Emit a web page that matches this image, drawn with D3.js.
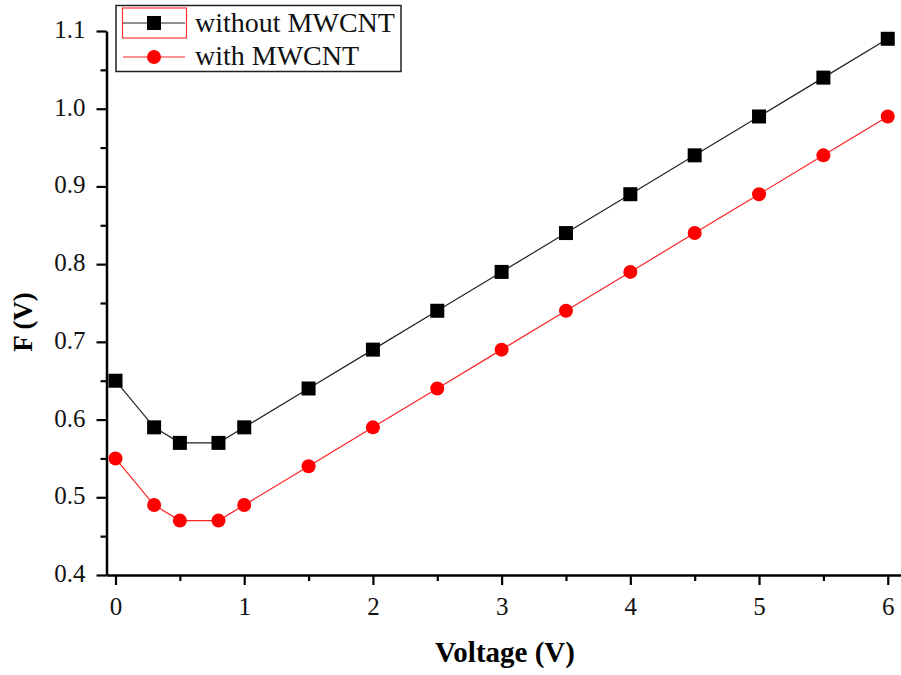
<!DOCTYPE html>
<html>
<head>
<meta charset="utf-8">
<script src="https://cdn.jsdelivr.net/npm/d3@7"></script>
<style>
  body { margin: 0; background: #fff; }
  svg { display: block; }
  svg text { font-family: "Liberation Serif", "Times New Roman", serif; }
</style>
</head>
<body>
<div id="chart"></div>
<script>
// data
const voltage = [0, 0.3, 0.5, 0.8, 1, 1.5, 2, 2.5, 3, 3.5, 4, 4.5, 5, 5.5, 6];
const withoutMWCNT = [0.65, 0.59, 0.57, 0.57, 0.59, 0.64, 0.69, 0.74, 0.79, 0.84, 0.89, 0.94, 0.99, 1.04, 1.09];
const withMWCNT = [0.55, 0.49, 0.47, 0.47, 0.49, 0.54, 0.59, 0.64, 0.69, 0.74, 0.79, 0.84, 0.89, 0.94, 0.99];
const xTicks = [0, 1, 2, 3, 4, 5, 6];
const xMinor = [0.5, 1.5, 2.5, 3.5, 4.5, 5.5];
const yTicks = [0.4, 0.5, 0.6, 0.7, 0.8, 0.9, 1.0, 1.1];
const yMinor = [0.45, 0.55, 0.65, 0.75, 0.85, 0.95, 1.05];
const seriesNames = ["without MWCNT", "with MWCNT"];

const W = 901, H = 675;
const plotLeft = 106.5, plotBottom = 575, plotTop = 31;
const serif = "'Liberation Serif', 'Times New Roman', serif";

const svg = d3.select("#chart").append("svg")
  .attr("width", W).attr("height", H);

const x = d3.scaleLinear().domain([-0.07, 6.103]).range([plotLeft, W]);
const y = d3.scaleLinear().domain([0.4, 1.1]).range([plotBottom, plotTop]);

// minor ticks first, then the main axes on top
svg.append("g")
  .attr("transform", "translate(0," + plotBottom + ")")
  .call(d3.axisBottom(x).tickValues(xMinor).tickSize(6).tickSizeOuter(0).tickFormat(""))
  .call(g => g.select(".domain").remove())
  .call(g => g.selectAll("line").attr("stroke-width", 2.2));

svg.append("g")
  .attr("transform", "translate(" + plotLeft + ",0)")
  .call(d3.axisLeft(y).tickValues(yMinor).tickSize(6).tickSizeOuter(0).tickFormat(""))
  .call(g => g.select(".domain").remove())
  .call(g => g.selectAll("line").attr("stroke-width", 2.2));

const xAxis = svg.append("g")
  .attr("transform", "translate(0," + plotBottom + ")")
  .call(d3.axisBottom(x).tickValues(xTicks).tickSize(10).tickSizeOuter(0).tickPadding(12).tickFormat(d3.format("d")))
  .attr("font-family", serif);
xAxis.select(".domain").attr("stroke-width", 2.5);
xAxis.selectAll("line").attr("stroke-width", 2.2);
xAxis.selectAll("text").attr("font-size", 25).attr("fill", "#111").style("font-family", serif);

const yAxis = svg.append("g")
  .attr("transform", "translate(" + plotLeft + ",0)")
  .call(d3.axisLeft(y).tickValues(yTicks).tickSize(10).tickSizeOuter(0).tickPadding(11).tickFormat(d3.format(".1f")))
  .attr("font-family", serif);
yAxis.select(".domain").attr("stroke-width", 2.5);
yAxis.selectAll("line").attr("stroke-width", 2.2);
yAxis.selectAll("text").attr("font-size", 25).attr("fill", "#111").attr("dy", "0.26em").style("font-family", serif);

// axis titles
svg.append("text")
  .attr("x", 505).attr("y", 662)
  .attr("text-anchor", "middle")
  .attr("font-size", 29).attr("font-weight", "bold")
  .text("Voltage (V)");

svg.append("text")
  .attr("transform", "translate(32,322) rotate(-90)")
  .attr("text-anchor", "middle")
  .attr("font-size", 27).attr("font-weight", "bold")
  .text("F (V)");

const line = d3.line().x((d, i) => x(voltage[i])).y(d => y(d));

// black series with squares
svg.append("path").datum(withoutMWCNT)
  .attr("fill", "none").attr("stroke", "#222").attr("stroke-width", 1.2)
  .attr("d", line);
svg.selectAll(".sq").data(withoutMWCNT).join("rect")
  .attr("x", (d, i) => x(voltage[i]) - 7)
  .attr("y", d => y(d) - 7)
  .attr("width", 14).attr("height", 14)
  .attr("fill", "#000");

// red series with circles
svg.append("path").datum(withMWCNT)
  .attr("fill", "none").attr("stroke", "#f22").attr("stroke-width", 1.2)
  .attr("d", line);
svg.selectAll(".ci").data(withMWCNT).join("circle")
  .attr("cx", (d, i) => x(voltage[i]))
  .attr("cy", d => y(d))
  .attr("r", 7)
  .attr("fill", "#f00");

// legend
const lg = svg.append("g");
lg.append("rect")
  .attr("x", 116).attr("y", 5.5).attr("width", 285).attr("height", 66)
  .attr("fill", "#fff").attr("stroke", "#222").attr("stroke-width", 1.5);
lg.append("rect")
  .attr("x", 122.5).attr("y", 8).attr("width", 64).attr("height", 30)
  .attr("fill", "none").attr("stroke", "#f33").attr("stroke-width", 1.2);

lg.append("line").attr("x1", 123).attr("x2", 185).attr("y1", 23).attr("y2", 23)
  .attr("stroke", "#222").attr("stroke-width", 1.2);
lg.append("rect").attr("x", 147).attr("y", 16).attr("width", 14).attr("height", 14).attr("fill", "#000");
lg.append("line").attr("x1", 123).attr("x2", 185).attr("y1", 57).attr("y2", 57)
  .attr("stroke", "#f22").attr("stroke-width", 1.2);
lg.append("circle").attr("cx", 154).attr("cy", 57).attr("r", 7).attr("fill", "#f00");

lg.selectAll(".lt").data(seriesNames).join("text")
  .attr("x", 195)
  .attr("y", (d, i) => 32 + i * 33)
  .attr("font-size", 28).attr("fill", "#111")
  .text(d => d);
</script>
</body>
</html>
